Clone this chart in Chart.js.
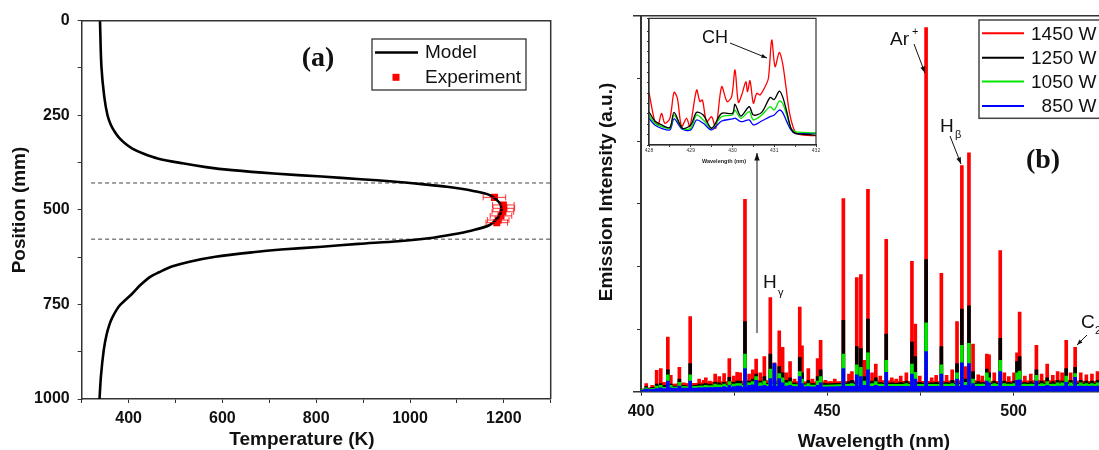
<!DOCTYPE html>
<html>
<head>
<meta charset="utf-8">
<script src="https://cdn.jsdelivr.net/npm/chart.js@4.4.1/dist/chart.umd.min.js"></script>
<style>
  html, body { margin: 0; padding: 0; background: #fff; }
  body { width: 1099px; height: 450px; overflow: hidden; position: relative; }
  canvas { position: absolute; }
</style>
</head>
<body>
<canvas id="tempChart" width="560" height="450" style="left:0;top:0"></canvas>
<canvas id="specChart" width="700" height="450" style="left:560px;top:0"></canvas>
<canvas id="insetChart" width="190" height="160" style="left:640px;top:10px"></canvas>
<script>
// ---- (a) temperature profile ----
const modelPos = [0, 120, 200, 250, 275, 293, 310, 324, 338, 351, 364, 377, 387, 395, 404, 412, 419, 425, 432, 439, 450, 461, 480, 500, 520, 540, 555, 565, 575,
  583, 590, 597.5, 605, 612, 624, 637, 650, 665, 677, 700, 721, 750, 765, 783, 800, 830, 871, 940, 1000]
const modelTemp = [339, 342, 348, 355, 362, 370, 380, 392, 408, 431, 462, 515, 565, 621, 710, 812, 895, 964, 1025, 1079, 1135, 1170, 1190, 1195, 1188, 1170, 1130, 1090, 1040,
  975, 890, 812, 725, 665, 585, 530, 492, 465, 446, 424, 408, 383, 374, 366, 360, 353, 347, 341, 338]
const expPos = [467, 487, 496, 505, 516, 527, 534]
const expTemp = [1180, 1199, 1200, 1198, 1194, 1188, 1185]
const expErr = [24, 23, 23, 23, 23, 23, 23]
const plasmaEdges = [429, 577.5]
const edgeSpan = [320, 1300]

// ---- (b) emission spectra ----
const powers = ['1450 W', '1250 W', '1050 W', '850 W']
const powerColors = ['#ff0000', '#000000', '#00e600', '#0000ff']

const lineWl = [401.4, 403.0, 404.2, 405.3, 406.2, 407.2, 408.0, 409.1, 410.3, 411.5, 413.2, 414.5, 415.6, 416.8, 417.4, 418.5, 419.9, 421.0, 422.3, 423.7,
  424.9, 425.8, 426.6, 427.9, 429.0, 430.0, 430.9, 432.0, 433.1, 434.7, 435.8, 437.1, 438.0, 439.0, 440.0, 441.2, 442.6, 443.2, 444.9, 446.0,
  447.4, 448.2, 449.5, 450.8, 452.0, 454.3, 455.8, 456.6, 457.9, 459.0, 459.9, 460.9, 462.0, 463.0, 464.2, 465.8, 467.3, 468.5, 469.7, 471.2,
  472.7, 473.6, 474.8, 476.5, 478.0, 479.2, 480.6, 482.0, 483.5, 484.8, 486.1, 487.0, 488.0, 489.1, 490.5, 491.6, 492.8, 493.4, 494.8, 496.4,
  497.5, 498.7, 500.1, 500.9, 501.6, 503.0, 504.6, 506.1, 507.5, 509.0, 510.5, 511.8, 513.0, 514.1, 515.3, 516.5, 518.0, 519.5, 521.0, 522.5]
const peak1450 = [0.13, 0.1, 0.34, 0.37, 0.15, 0.87, 0.26, 0.12, 0.39, 0.14, 1.2, 0.13, 0.2, 0.18, 0.22, 0.17, 0.28, 0.24, 0.29, 0.53,
  0.25, 0.31, 0.3, 3.07, 0.28, 0.35, 0.52, 0.3, 0.56, 1.5, 0.46, 0.97, 0.71, 0.3, 0.48, 0.2, 1.35, 0.73, 0.37, 0.2,
  0.53, 0.82, 0.18, 0.16, 0.2, 3.08, 0.28, 0.32, 1.82, 1.87, 0.5, 3.23, 0.3, 0.44, 0.25, 2.43, 0.22, 0.2, 0.25, 0.3,
  2.08, 1.08, 0.25, 5.81, 0.22, 0.26, 1.89, 0.26, 0.35, 1.12, 3.61, 0.4, 3.81, 0.76, 0.27, 0.25, 0.6, 0.59, 0.3, 2.25,
  0.3, 0.24, 0.3, 0.62, 1.27, 0.25, 0.28, 0.74, 0.28, 0.44, 0.26, 0.32, 0.3, 0.82, 0.3, 0.71, 0.3, 0.27, 0.28, 0.32]
const peak1250 = [0.08, 0.07, 0.12, 0.13, 0.1, 0.35, 0.12, 0.09, 0.2, 0.1, 0.45, 0.1, 0.12, 0.12, 0.13, 0.12, 0.15, 0.14, 0.15, 0.23,
  0.15, 0.17, 0.17, 1.12, 0.17, 0.2, 0.28, 0.17, 0.24, 0.6, 0.44, 0.4, 0.3, 0.18, 0.22, 0.14, 0.55, 0.3, 0.18, 0.13,
  0.24, 0.35, 0.13, 0.12, 0.13, 1.14, 0.16, 0.18, 0.72, 0.69, 0.24, 1.16, 0.17, 0.22, 0.15, 0.92, 0.14, 0.13, 0.15, 0.17,
  0.79, 0.56, 0.15, 2.11, 0.14, 0.15, 0.72, 0.15, 0.18, 0.45, 1.32, 0.2, 1.37, 0.32, 0.16, 0.15, 0.36, 0.3, 0.17, 0.85,
  0.17, 0.15, 0.17, 0.48, 0.56, 0.15, 0.16, 0.35, 0.17, 0.22, 0.16, 0.18, 0.17, 0.37, 0.18, 0.39, 0.18, 0.17, 0.17, 0.18]
const peak1050 = [0.06, 0.05, 0.09, 0.1, 0.07, 0.27, 0.1, 0.07, 0.15, 0.08, 0.27, 0.08, 0.09, 0.09, 0.1, 0.09, 0.12, 0.11, 0.12, 0.16,
  0.12, 0.13, 0.13, 0.6, 0.14, 0.16, 0.24, 0.14, 0.17, 0.36, 0.44, 0.29, 0.22, 0.14, 0.16, 0.11, 0.32, 0.2, 0.13, 0.1,
  0.17, 0.24, 0.1, 0.09, 0.1, 0.6, 0.12, 0.13, 0.43, 0.39, 0.17, 0.62, 0.13, 0.16, 0.12, 0.5, 0.11, 0.1, 0.11, 0.13,
  0.44, 0.31, 0.11, 1.1, 0.11, 0.11, 0.43, 0.12, 0.13, 0.3, 0.74, 0.15, 0.77, 0.2, 0.12, 0.12, 0.3, 0.22, 0.13, 0.5,
  0.13, 0.12, 0.13, 0.3, 0.33, 0.12, 0.12, 0.26, 0.13, 0.16, 0.12, 0.14, 0.14, 0.25, 0.14, 0.29, 0.14, 0.13, 0.13, 0.14]
const peak850 = [0.04, 0.03, 0.05, 0.06, 0.04, 0.17, 0.06, 0.04, 0.09, 0.05, 0.17, 0.05, 0.06, 0.06, 0.06, 0.06, 0.07, 0.07, 0.08, 0.1,
  0.08, 0.09, 0.09, 0.37, 0.1, 0.11, 0.18, 0.09, 0.1, 0.21, 0.45, 0.21, 0.14, 0.09, 0.1, 0.07, 0.24, 0.13, 0.08, 0.06,
  0.1, 0.14, 0.06, 0.06, 0.06, 0.37, 0.08, 0.08, 0.27, 0.24, 0.1, 0.35, 0.08, 0.1, 0.07, 0.31, 0.07, 0.07, 0.07, 0.08,
  0.28, 0.2, 0.07, 0.64, 0.07, 0.07, 0.28, 0.07, 0.08, 0.2, 0.46, 0.1, 0.45, 0.13, 0.08, 0.08, 0.17, 0.14, 0.08, 0.32,
  0.08, 0.08, 0.08, 0.18, 0.19, 0.08, 0.08, 0.17, 0.08, 0.1, 0.08, 0.09, 0.09, 0.15, 0.09, 0.23, 0.09, 0.09, 0.09, 0.09]

const baseWl = [400, 405, 410, 415, 420, 425, 430, 435, 440, 445, 450, 455, 460, 465, 470, 475, 480, 485, 490, 495, 500, 505, 510, 515, 520, 525, 530]
const base1450 = [0.03, 0.09, 0.12, 0.13, 0.15, 0.16, 0.17, 0.17, 0.16, 0.15, 0.15, 0.16, 0.17, 0.17, 0.16, 0.16, 0.16, 0.17, 0.17, 0.16, 0.16, 0.17, 0.17, 0.17, 0.16, 0.16, 0.16]
const base1250 = [0.03, 0.06, 0.08, 0.09, 0.1, 0.11, 0.12, 0.13, 0.12, 0.12, 0.12, 0.13, 0.13, 0.13, 0.13, 0.13, 0.13, 0.13, 0.13, 0.13, 0.13, 0.13, 0.13, 0.13, 0.13, 0.13, 0.13]
const base1050 = [0.03, 0.05, 0.07, 0.08, 0.09, 0.1, 0.1, 0.11, 0.11, 0.1, 0.1, 0.11, 0.11, 0.11, 0.11, 0.11, 0.11, 0.11, 0.11, 0.11, 0.11, 0.11, 0.11, 0.11, 0.11, 0.11, 0.11]
const base850 = [0.02, 0.04, 0.05, 0.05, 0.06, 0.06, 0.07, 0.08, 0.08, 0.07, 0.07, 0.08, 0.08, 0.08, 0.08, 0.08, 0.08, 0.08, 0.08, 0.08, 0.08, 0.08, 0.08, 0.08, 0.08, 0.08, 0.08]

// ---- inset: CH band 428-432 nm ----
const insetWl1450 = [428.0, 428.14, 428.22, 428.3, 428.38, 428.5, 428.6, 428.68, 428.78, 428.9, 428.98, 429.14, 429.22, 429.28, 429.38, 429.5, 429.6, 429.74, 429.87, 429.98,
  430.06, 430.14, 430.22, 430.32, 430.36, 430.42, 430.5, 430.58, 430.66, 430.78, 430.86, 430.94, 431.02, 431.12, 431.2, 431.28, 431.36, 431.46, 431.54, 431.7, 432.0]
const inset1450 = [2.55, 1.13, 0.97, 1.53, 1.05, 1.29, 2.55, 2.26, 0.89, 1.29, 0.89, 2.66, 2.1, 2.18, 1.13, 1.37, 0.81, 2.82, 2.1, 2.34,
  3.63, 2.06, 2.42, 3.06, 2.58, 3.11, 2.02, 2.5, 2.42, 2.82, 3.23, 5.08, 3.79, 4.48, 3.95, 2.82, 1.61, 0.81, 0.56, 0.48, 0.45]
const insetWl = [428.0, 428.14, 428.3, 428.5, 428.6, 428.8, 429.0, 429.14, 429.3, 429.5, 429.74, 430.0, 430.06, 430.2, 430.4, 430.5, 430.7, 430.9, 431.0, 431.12, 431.2, 431.3, 431.4, 431.5, 431.7, 432.0]
const inset1250 = [1.61, 1.16, 0.97, 0.85, 1.58, 0.81, 0.97, 1.58, 1.45, 0.81, 1.53, 1.53, 1.97, 1.4, 1.85, 1.45, 1.58, 2.3, 2.2, 2.61, 2.34, 1.61, 0.81, 0.56, 0.52, 0.48]
const inset1050 = [1.45, 1.05, 0.89, 0.81, 1.45, 0.81, 0.81, 1.45, 1.21, 0.81, 1.37, 1.45, 1.69, 1.29, 1.61, 1.21, 1.45, 1.85, 1.69, 2.13, 2.02, 1.45, 0.81, 0.65, 0.61, 0.58]
const inset850 = [1.29, 0.97, 0.81, 0.73, 1.26, 0.76, 0.73, 1.21, 1.05, 0.73, 1.16, 1.26, 1.3, 1.13, 1.21, 0.97, 1.16, 1.37, 1.45, 1.69, 1.58, 1.13, 0.73, 0.56, 0.56, 0.56]

const SANS = "'Liberation Sans', Arial, sans-serif"
const SERIF = "'Liberation Serif', 'Times New Roman', serif"
const AXIS = '#333'

Chart.defaults.animation = false
Chart.defaults.font.family = SANS

function pts(xs, ys) {
  return xs.map((x, i) => ({ x: x, y: ys[i] }))
}

function arrow(ctx, x1, y1, x2, y2, head) {
  const ang = Math.atan2(y2 - y1, x2 - x1)
  ctx.beginPath()
  ctx.moveTo(x1, y1)
  ctx.lineTo(x2, y2)
  ctx.stroke()
  ctx.beginPath()
  ctx.moveTo(x2, y2)
  ctx.lineTo(x2 - head * Math.cos(ang - 0.35), y2 - head * Math.sin(ang - 0.35))
  ctx.lineTo(x2 - head * Math.cos(ang + 0.35), y2 - head * Math.sin(ang + 0.35))
  ctx.closePath()
  ctx.fill()
}

function framePlugin(width, full) {
  return {
    id: 'frame',
    afterDraw(chart) {
      const { ctx, chartArea: a } = chart
      ctx.save()
      ctx.strokeStyle = AXIS
      ctx.lineWidth = width
      ctx.beginPath()
      if (full) {
        ctx.rect(a.left, a.top, a.right - a.left, a.bottom - a.top)
      } else {
        ctx.moveTo(a.left, a.top)
        ctx.lineTo(a.right, a.top)
        ctx.lineTo(a.right, a.bottom)
      }
      ctx.stroke()
      ctx.restore()
    },
  }
}

const tickFont = { family: SANS, size: 16, weight: 'bold' }

// ================= (a) =================
const errorBars = {
  id: 'errorBars',
  afterDatasetsDraw(chart) {
    const meta = chart.getDatasetMeta(1)
    const xs = chart.scales.x
    const ctx = chart.ctx
    ctx.save()
    ctx.strokeStyle = 'rgba(255,0,0,0.8)'
    ctx.lineWidth = 1
    meta.data.forEach((pt, i) => {
      const l = xs.getPixelForValue(expTemp[i] - expErr[i])
      const r = xs.getPixelForValue(expTemp[i] + expErr[i])
      ctx.beginPath()
      ctx.moveTo(l, pt.y); ctx.lineTo(r, pt.y)
      ctx.moveTo(l, pt.y - 3); ctx.lineTo(l, pt.y + 3)
      ctx.moveTo(r, pt.y - 3); ctx.lineTo(r, pt.y + 3)
      ctx.stroke()
    })
    ctx.restore()
  },
}

const tempDecor = {
  id: 'tempDecor',
  afterDraw(chart) {
    const ctx = chart.ctx
    ctx.save()
    // axis titles
    ctx.fillStyle = '#111'
    ctx.font = 'bold 19px ' + SANS
    ctx.textAlign = 'center'
    ctx.textBaseline = 'middle'
    ctx.fillText('Temperature (K)', 302, 440)
    ctx.translate(20, 210)
    ctx.rotate(-Math.PI / 2)
    ctx.fillText('Position (mm)', 0, 0)
    ctx.setTransform(1, 0, 0, 1, 0, 0)
    // panel label
    ctx.font = 'bold 28px ' + SERIF
    ctx.fillText('(a)', 318, 59)
    // legend
    ctx.strokeStyle = '#222'
    ctx.lineWidth = 1.2
    ctx.fillStyle = '#fff'
    ctx.fillRect(372, 39, 154, 51)
    ctx.strokeRect(372, 39, 154, 51)
    ctx.strokeStyle = '#000'
    ctx.lineWidth = 2.5
    ctx.beginPath()
    ctx.moveTo(375, 52.5); ctx.lineTo(418, 52.5)
    ctx.stroke()
    ctx.fillStyle = '#ff0000'
    ctx.fillRect(392.5, 73.8, 7, 7)
    ctx.fillStyle = '#111'
    ctx.font = '19px ' + SANS
    ctx.textAlign = 'left'
    ctx.fillText('Model', 425, 53)
    ctx.fillText('Experiment', 425, 78)
    ctx.restore()
  },
}

new Chart(document.getElementById('tempChart'), {
  type: 'line',
  data: {
    datasets: [
      {
        label: 'Model',
        data: pts(modelTemp, modelPos),
        borderColor: '#000',
        borderWidth: 2.6,
        pointRadius: 0,
        tension: 0.3,
        fill: false,
      },
      {
        label: 'Experiment',
        data: pts(expTemp, expPos),
        showLine: false,
        pointStyle: 'rect',
        pointRadius: 5,
        backgroundColor: '#ff0000',
        borderColor: '#ff0000',
        borderWidth: 0,
      },
      ...plasmaEdges.map((p) => ({
        data: pts(edgeSpan, [p, p]),
        borderColor: '#444',
        borderWidth: 1,
        borderDash: [4, 3],
        pointRadius: 0,
        tension: 0,
        fill: false,
      })),
    ],
  },
  options: {
    responsive: false,
    devicePixelRatio: 1,
    indexAxis: 'y',
    layout: { padding: { left: 0, right: 9.3, top: 20.7, bottom: 0 } },
    plugins: { legend: { display: false }, tooltip: { enabled: false } },
    scales: {
      x: {
        type: 'linear',
        min: 300,
        max: 1300,
        afterFit: (s) => { s.height = 51 },
        ticks: {
          stepSize: 100,
          autoSkip: false,
          maxRotation: 0,
          padding: 6,
          color: '#111',
          font: tickFont,
          callback: (v) => (v % 200 === 0 && v >= 400 && v <= 1200 ? v : ''),
        },
        grid: { drawOnChartArea: false, tickLength: 4, color: AXIS },
        border: { color: AXIS, width: 1.5 },
      },
      y: {
        type: 'linear',
        reverse: true,
        min: 0,
        max: 1000,
        afterFit: (s) => { s.width = 81.7 },
        ticks: {
          stepSize: 125,
          autoSkip: false,
          padding: 8,
          color: '#111',
          font: tickFont,
          callback: (v) => (v % 250 === 0 ? v : ''),
        },
        grid: { drawOnChartArea: false, tickLength: 4, color: AXIS },
        border: { color: AXIS, width: 1.5 },
      },
    },
  },
  plugins: [errorBars, framePlugin(1.5, false), tempDecor],
})

// ================= (b) =================
const peakSeries = [peak1450, peak1250, peak1050, peak850]
const baseSeries = [base1450, base1250, base1050, base850]

const specDatasets = []
powers.forEach((p, i) => {
  specDatasets.push({
    type: 'line',
    data: pts(baseWl, baseSeries[i]),
    borderColor: powerColors[i],
    backgroundColor: powerColors[i],
    borderWidth: 1.5,
    pointRadius: 0,
    tension: 0,
    fill: 'origin',
    order: 9 - 2 * i,
  })
  specDatasets.push({
    type: 'bar',
    label: p,
    data: pts(lineWl, peakSeries[i]),
    backgroundColor: powerColors[i],
    barThickness: 3,
    grouped: false,
    order: 8 - 2 * i,
  })
})

const specDecor = {
  id: 'specDecor',
  afterDraw(chart) {
    const ctx = chart.ctx
    const a = chart.chartArea
    ctx.save()
    // frame stubs left of the axis
    ctx.strokeStyle = AXIS
    ctx.lineWidth = 1.5
    ctx.beginPath()
    ctx.moveTo(a.left - 8, a.top); ctx.lineTo(a.left, a.top)
    ctx.moveTo(a.left - 8, a.bottom); ctx.lineTo(a.left, a.bottom)
    ctx.stroke()
    // axis titles
    ctx.fillStyle = '#111'
    ctx.font = 'bold 19px ' + SANS
    ctx.textAlign = 'center'
    ctx.textBaseline = 'middle'
    ctx.fillText('Wavelength (nm)', 314, 442)
    ctx.translate(47, 192)
    ctx.rotate(-Math.PI / 2)
    ctx.fillText('Emission Intensity (a.u.)', 0, 0)
    ctx.setTransform(1, 0, 0, 1, 0, 0)
    // panel label
    ctx.font = 'bold 28px ' + SERIF
    ctx.fillText('(b)', 483, 161)
    // line labels
    ctx.fillStyle = '#111'
    ctx.strokeStyle = '#111'
    ctx.lineWidth = 1
    ctx.textAlign = 'left'
    ctx.textBaseline = 'alphabetic'
    ctx.font = '19px ' + SANS
    ctx.fillText('Ar', 330, 45)
    ctx.fillText('H', 203, 288)
    ctx.fillText('H', 380, 132)
    ctx.fillText('C', 521, 328)
    ctx.font = '11px ' + SANS
    ctx.fillText('+', 352, 35)
    ctx.fillText('\u03b3', 218, 296)
    ctx.fillText('\u03b2', 395, 138)
    ctx.fillText('2', 535, 334)
    arrow(ctx, 354, 44, 365, 73, 7)
    arrow(ctx, 390, 136, 401, 164, 7)
    arrow(ctx, 527, 335, 517, 345, 6)
    arrow(ctx, 197, 333, 197, 153, 8)
    // legend
    ctx.fillStyle = '#fff'
    ctx.strokeStyle = '#444'
    ctx.lineWidth = 1.5
    ctx.fillRect(419, 20, 125, 98.3)
    ctx.strokeRect(419, 20, 125, 98.3)
    const rows = [33.3, 57.7, 81.5, 106]
    ctx.font = '19px ' + SANS
    ctx.textAlign = 'right'
    ctx.textBaseline = 'middle'
    powers.forEach((p, i) => {
      ctx.strokeStyle = powerColors[i]
      ctx.lineWidth = 2
      ctx.beginPath()
      ctx.moveTo(422, rows[i]); ctx.lineTo(464, rows[i])
      ctx.stroke()
      ctx.fillStyle = '#111'
      ctx.fillText(p, 536.5, rows[i] + 1)
    })
    ctx.restore()
  },
}

new Chart(document.getElementById('specChart'), {
  type: 'bar',
  data: { datasets: specDatasets },
  options: {
    responsive: false,
    devicePixelRatio: 1,
    layout: { padding: { left: 0, right: 60, top: 15.7, bottom: 0 } },
    plugins: { legend: { display: false }, tooltip: { enabled: false } },
    scales: {
      x: {
        type: 'linear',
        min: 400,
        max: 550,
        offset: false,
        afterFit: (s) => { s.height = 58.3 },
        ticks: {
          stepSize: 25,
          autoSkip: false,
          maxRotation: 0,
          padding: 6,
          color: '#111',
          font: tickFont,
          callback: (v) => (v % 50 === 0 ? v : ''),
        },
        grid: { offset: false, drawOnChartArea: false, tickLength: 4, color: AXIS },
        border: { color: AXIS, width: 1.5 },
      },
      y: {
        type: 'linear',
        min: 0,
        max: 6,
        afterFit: (s) => { s.width = 81 },
        ticks: { stepSize: 1, display: false },
        grid: { drawOnChartArea: false, tickLength: 4, color: AXIS },
        border: { color: AXIS, width: 2 },
      },
    },
  },
  plugins: [framePlugin(1.5, false), specDecor],
})

// ================= inset =================
const insetDecor = {
  id: 'insetDecor',
  afterDraw(chart) {
    const ctx = chart.ctx
    ctx.save()
    ctx.fillStyle = '#222'
    ctx.font = 'bold 5.5px ' + SANS
    ctx.textAlign = 'center'
    ctx.textBaseline = 'middle'
    ctx.fillText('Wavelength (nm)', 84, 151)
    ctx.fillStyle = '#111'
    ctx.strokeStyle = '#111'
    ctx.lineWidth = 1
    ctx.font = '18px ' + SANS
    ctx.textAlign = 'left'
    ctx.textBaseline = 'alphabetic'
    ctx.fillText('CH', 62, 33)
    arrow(ctx, 90, 33, 127, 48, 6)
    ctx.restore()
  },
}

const insetSeries = [
  pts(insetWl1450, inset1450),
  pts(insetWl, inset1250),
  pts(insetWl, inset1050),
  pts(insetWl, inset850),
]

new Chart(document.getElementById('insetChart'), {
  type: 'line',
  data: {
    datasets: insetSeries.map((d, i) => ({
      label: powers[i],
      data: d,
      borderColor: powerColors[i],
      borderWidth: 1.3,
      pointRadius: 0,
      tension: 0.3,
      fill: false,
      order: i === 0 ? 5 : i,
    })),
  },
  options: {
    responsive: false,
    devicePixelRatio: 1,
    layout: { padding: { left: 0, right: 14, top: 8.3, bottom: 0 } },
    plugins: { legend: { display: false }, tooltip: { enabled: false } },
    scales: {
      x: {
        type: 'linear',
        min: 428,
        max: 432,
        afterFit: (s) => { s.height = 25 },
        ticks: {
          stepSize: 0.5,
          autoSkip: false,
          maxRotation: 0,
          padding: 1,
          color: '#333',
          font: { family: SANS, size: 5 },
          callback: (v) => (Number.isInteger(v) ? v : ''),
        },
        grid: { drawOnChartArea: false, tickLength: 2, color: '#333' },
        border: { color: '#222', width: 1.2 },
      },
      y: {
        type: 'linear',
        min: 0,
        max: 6.13,
        afterFit: (s) => { s.width = 9 },
        ticks: { stepSize: 0.5, display: false },
        grid: { drawOnChartArea: false, tickLength: 2, color: '#333' },
        border: { color: '#222', width: 1.2 },
      },
    },
  },
  plugins: [framePlugin(1.2, true), insetDecor],
})
</script>
</body>
</html>
